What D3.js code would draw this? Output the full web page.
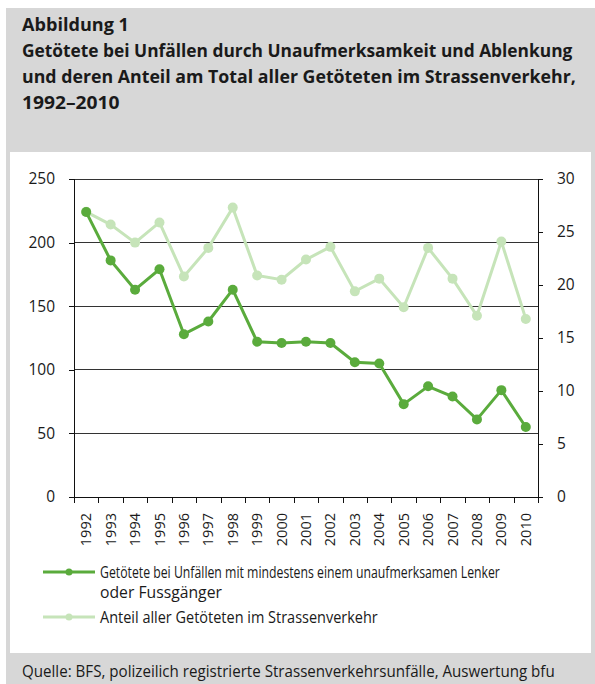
<!DOCTYPE html>
<html>
<head>
<meta charset="utf-8">
<script src="https://cdn.jsdelivr.net/npm/d3@7"></script>
<style>
  body { margin: 0; background: #fff; }
  text { font-family: "Open Sans", "Noto Sans", sans-serif; fill: #1a1a1a; }
</style>
</head>
<body>
<div id="chart"></div>
<script>
// Data
const years = ['1992','1993','1994','1995','1996','1997','1998','1999','2000','2001',
  '2002','2003','2004','2005','2006','2007','2008','2009','2010'];
const killed = [224, 186, 163, 179, 128, 138, 163, 122, 121, 122, 121, 106, 105, 73, 87, 79, 61, 84, 55];
const share = [26.9, 25.7, 24.0, 25.9, 20.8, 23.5, 27.3, 20.9, 20.5, 22.4, 23.6, 19.4, 20.6, 17.9, 23.5, 20.6, 17.1, 24.1, 16.8];
const leftTicks = [0, 50, 100, 150, 200, 250];
const rightTicks = [0, 5, 10, 15, 20, 25, 30];

const titleLines = ['Abbildung 1',
  'Getötete bei Unfällen durch Unaufmerksamkeit und Ablenkung',
  'und deren Anteil am Total aller Getöteten im Strassenverkehr,',
  '1992–2010'];
const legendLabels = ['Getötete bei Unfällen mit mindestens einem unaufmerksamen Lenker',
  'oder Fussgänger', 'Anteil aller Getöteten im Strassenverkehr'];
const source = 'Quelle: BFS, polizeilich registrierte Strassenverkehrsunfälle, Auswertung bfu';

const dark = '#5aab3c';
const light = '#c6e4b9';

const svg = d3.select('#chart').append('svg')
  .attr('width', 595)
  .attr('height', 684);

// squeeze a text horizontally to a given width (condensed look of the original)
function fitText(sel, x0, y0, w) {
  const natural = sel.node().getComputedTextLength();
  const k = Math.min(1.1, w / natural);
  sel.attr('x', 0).attr('y', 0)
    .attr('transform', `translate(${x0}, ${y0}) scale(${k}, 1)`);
}

// grey frame + white panel
svg.append('rect').attr('x', 6).attr('y', 8).attr('width', 589).attr('height', 676).attr('fill', '#d7d7d7');
svg.append('rect').attr('x', 10).attr('y', 152).attr('width', 581).attr('height', 501).attr('fill', '#fff');

// title
const titleWidths = [107, 551, 554, 101];
titleLines.forEach((t, i) => {
  const el = svg.append('text')
    .attr('font-size', '17.5px').attr('font-weight', 'bold')
    .text(t);
  fitText(el, 22, 31 + i * 26, titleWidths[i]);
});

const margin = {top: 179, left: 74};
const width = 464, height = 318;
const g = svg.append('g').attr('transform', `translate(${margin.left}, ${margin.top})`);

const x = d3.scaleBand().domain(years).range([0, width]);
const xb = d3.scaleLinear().domain([0, years.length]).range([0, width]);
const y = d3.scaleLinear().domain([0, 250]).range([height, 0]);
const y2 = d3.scaleLinear().domain([0, 30]).range([height, 0]);

// gridlines
g.append('g').selectAll('line')
  .data(leftTicks.filter(d => d > 0))
  .enter().append('line')
  .attr('x1', 0).attr('x2', width)
  .attr('y1', d => y(d)).attr('y2', d => y(d))
  .attr('stroke', '#333').attr('stroke-width', 1).attr('shape-rendering', 'crispEdges');

// left axis
const yAxisGroup = g.append('g').call(d3.axisLeft(y).tickValues(leftTicks).tickSize(5).tickPadding(14));
// right axis
const y2AxisGroup = g.append('g').attr('transform', `translate(${width}, 0)`)
  .call(d3.axisRight(y2).tickValues(rightTicks).tickSize(5).tickPadding(14));
// bottom ticks at band boundaries
const xTickGroup = g.append('g').attr('transform', `translate(0, ${height})`)
  .call(d3.axisBottom(xb).tickValues(d3.range(years.length + 1)).tickFormat('').tickSize(6));
// bottom labels
const xAxisGroup = g.append('g').attr('transform', `translate(0, ${height})`)
  .call(d3.axisBottom(x).tickSize(0).tickPadding(0));
xAxisGroup.select('.domain').remove();
xAxisGroup.selectAll('text')
  .attr('transform', 'rotate(-90)')
  .attr('x', -16).attr('y', 0).attr('dy', '0.35em')
  .attr('text-anchor', 'end')
  .attr('font-size', '14.5px');

[yAxisGroup, y2AxisGroup, xTickGroup].forEach(a => {
  a.selectAll('.domain, line').attr('stroke', '#111').attr('shape-rendering', 'crispEdges');
});
yAxisGroup.selectAll('text').attr('font-size', '15.5px').attr('fill', '#1a1a1a');
y2AxisGroup.selectAll('text').attr('font-size', '15.5px').attr('fill', '#1a1a1a');
xAxisGroup.selectAll('text').attr('fill', '#1a1a1a');

// series
const cx = (d, i) => x(years[i]) + x.bandwidth() / 2;
const lineShare = d3.line().x(cx).y(d => y2(d));
const lineKilled = d3.line().x(cx).y(d => y(d));

g.append('path').datum(share)
  .attr('d', lineShare).attr('fill', 'none')
  .attr('stroke', light).attr('stroke-width', 3);
g.selectAll('.pShare').data(share).enter().append('circle')
  .attr('class', 'pShare')
  .attr('cx', cx).attr('cy', d => y2(d)).attr('r', 5)
  .attr('fill', light);

g.append('path').datum(killed)
  .attr('d', lineKilled).attr('fill', 'none')
  .attr('stroke', dark).attr('stroke-width', 3);
g.selectAll('.pKilled').data(killed).enter().append('circle')
  .attr('class', 'pKilled')
  .attr('cx', cx).attr('cy', d => y(d)).attr('r', 5)
  .attr('fill', dark);

// legend
const legend = svg.append('g');
const legendRows = [{y: 572, color: dark, lines: [legendLabels[0], legendLabels[1]], widths: [400, 122]},
  {y: 617, color: light, lines: [legendLabels[2]], widths: [278]}];
legendRows.forEach(r => {
  legend.append('line').attr('x1', 43).attr('x2', 95).attr('y1', r.y).attr('y2', r.y)
    .attr('stroke', r.color).attr('stroke-width', 3);
  legend.append('circle').attr('cx', 69).attr('cy', r.y).attr('r', 3.5).attr('fill', r.color);
  r.lines.forEach((t, i) => {
    const el = legend.append('text').attr('font-size', '16px').text(t);
    fitText(el, 100, r.y + 6 + i * 20, r.widths[i]);
  });
});

// source
const src = svg.append('text').attr('font-size', '15.5px').text(source);
fitText(src, 22, 677, 533);
</script>
</body>
</html>
